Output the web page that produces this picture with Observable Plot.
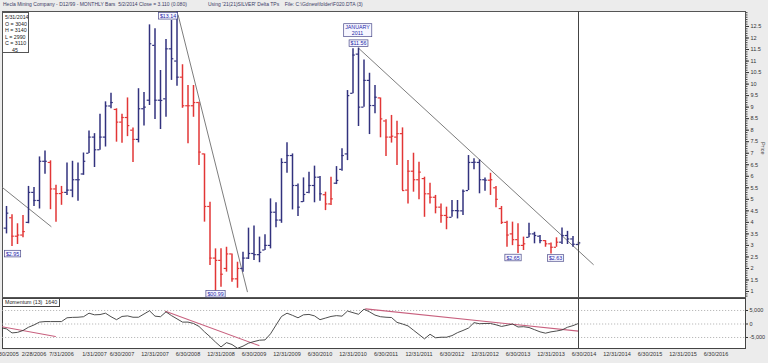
<!DOCTYPE html>
<html><head><meta charset="utf-8">
<script src="https://cdn.jsdelivr.net/npm/d3@7"></script>
<script src="https://cdn.jsdelivr.net/npm/@observablehq/plot@0.6"></script>
<style>
body{margin:0;background:#f0f0f0;font-family:"Liberation Sans",Arial,sans-serif;}
#wrap{position:relative;width:768px;height:363px;overflow:hidden;background:#ececec;}
#wrap svg{position:absolute;left:0;}
.hdr{position:absolute;top:1px;font-size:5px;color:#3c3c66;white-space:pre;}
#info{position:absolute;left:2px;top:12px;width:23px;height:38px;border:1px solid #555;background:#fff;font-size:5.3px;line-height:6.5px;color:#222;padding:1px 0 0 2px;}
#momlbl{position:absolute;left:2px;top:298px;height:7px;padding:0 2px;border:1px solid #444;background:#fff;font-size:5.3px;line-height:7px;color:#222;white-space:pre;}
</style></head><body>
<div id="wrap">
<div class="hdr" style="left:3px">Hecla Mining Company - D12/99 - MONTHLY Bars  5/2/2014 Close = 3.110 (0.080)</div>
<div class="hdr" style="left:208px">Using '21(21)SILVER' Delta TPs    File: C:\Gdnew\folder\F020.DTA (3)</div>
</div>
<script>
// ---- data (bar 1 = Sep 2005 ... bar 105 = May 2014), prices in $
const opens = [3.75,4.20,3.40,3.45,4.00,5.30,4.95,6.65,6.60,5.45,5.25,5.30,5.40,5.85,6.10,7.00,7.70,7.15,7.70,9.05,
8.90,8.35,8.55,8.00,7.60,8.93,9.30,11.68,9.30,9.36,11.53,11.00,10.30,9.06,9.06,9.20,6.97,4.69,2.45,2.35,
2.00,2.63,1.55,2.00,2.45,2.65,2.60,2.80,3.00,4.44,4.10,6.60,6.90,5.60,4.90,5.30,5.60,5.96,5.20,4.80,
5.70,6.30,6.97,9.60,11.30,9.00,10.16,9.07,9.40,8.40,7.70,7.70,7.85,5.40,6.22,5.85,5.90,5.24,5.09,4.66,
4.30,4.22,4.51,4.50,5.38,6.60,6.60,5.85,5.83,5.50,4.60,4.00,3.50,3.25,3.00,3.35,3.50,3.40,3.21,3.07,
2.92,3.14,3.43,3.28,3.04];
const highs = [4.69,4.33,3.94,4.30,5.56,5.51,6.84,7.10,6.67,5.61,5.56,6.58,6.65,6.58,7.01,7.97,7.85,8.69,9.23,9.60,
8.93,8.69,9.40,8.09,9.80,9.63,12.57,12.40,10.59,11.94,12.76,13.14,10.84,9.94,9.94,9.21,6.97,4.87,2.85,2.85,
2.92,2.63,2.27,2.70,3.75,3.84,3.36,3.46,5.02,4.85,6.76,7.45,6.97,5.67,5.93,6.18,6.44,5.99,5.31,5.96,
6.42,7.19,9.72,11.53,11.56,11.05,10.47,9.94,9.40,8.45,8.64,8.39,8.10,6.68,7.00,6.61,5.96,5.70,5.17,4.80,
4.66,4.95,4.95,5.41,6.90,6.76,6.71,5.93,6.13,5.56,4.69,4.05,4.01,3.94,3.36,3.96,3.57,3.43,3.21,3.10,
3.33,3.76,3.61,3.39,3.14];
const lows = [3.50,2.95,3.04,3.33,3.94,4.69,4.58,6.09,4.55,4.01,4.74,5.17,5.07,4.92,6.04,6.99,6.38,7.13,7.27,8.93,
7.48,7.43,7.72,6.60,7.45,8.18,9.07,8.46,8.03,8.56,10.16,9.91,8.95,7.41,8.56,6.47,4.01,2.13,0.99,1.19,
1.84,1.40,1.14,1.84,2.39,2.35,2.25,2.78,2.85,3.77,3.96,6.13,4.54,4.25,4.87,5.24,4.85,4.92,4.51,4.73,
5.64,6.22,6.68,9.58,8.16,9.00,7.81,8.71,7.67,6.86,7.44,6.47,5.38,4.80,5.31,4.98,4.22,4.80,4.37,3.96,
3.68,4.22,4.15,4.30,5.38,6.28,5.24,5.35,5.17,4.63,3.91,2.92,2.99,2.65,2.78,3.33,3.07,3.07,2.92,2.63,
2.92,3.04,3.04,2.92,2.99];
const closes = [4.40,3.40,3.45,3.60,5.30,4.95,6.65,6.65,5.45,5.25,5.30,5.40,5.85,5.85,6.65,7.70,7.15,7.70,9.05,9.20,
8.35,8.55,8.20,7.60,8.93,9.00,11.75,9.30,9.29,11.53,11.10,10.30,9.06,9.06,9.20,7.05,4.69,2.45,2.35,1.75,
2.63,1.55,2.00,2.45,2.65,2.60,2.70,3.00,4.44,4.10,6.60,6.90,5.60,4.66,5.21,5.60,5.96,5.24,4.80,5.02,
5.82,6.90,9.50,11.26,9.00,10.16,9.07,9.43,8.49,7.70,7.74,7.85,5.38,6.22,5.85,6.18,5.24,5.09,4.66,4.30,
4.22,4.51,4.50,5.35,6.60,6.61,5.85,5.83,5.85,5.00,4.00,3.45,3.25,3.00,3.07,3.50,3.43,3.21,3.07,2.92,
3.14,3.43,3.28,3.05,3.11];
// bar colour state (b = blue, r = red), runs per bar
const barState = ("b"+"rrr"+"bbbb"+"rrr"+"bbbbbbbbb"+"rrrr"+"bbbbbbbb"+"rrrrrrrrrrr"+"bbbbbbbbbbbbbbb"+"rr"+
  "bbbbbbbb"+"rrrrrrrrrrrrr"+"bbbbbbb"+"rrrrrrr"+"bbb"+"rrr"+"bbbb").split("");
// Momentum(13), bar 0 (Aug 2005) .. bar 105
const momentum = [-1400,-1800,-3300,-3100,-2400,-1200,-350,700,900,900,900,900,2300,2450,2500,2700,4000,3400,3500,4000,
2700,1600,2800,3000,2500,2500,3700,4900,2900,2700,4500,3100,1900,700,700,200,-900,-2900,-4700,-6700,
-8500,-6900,-7600,-9000,-8200,-7100,-6500,-6000,-5900,-3650,-400,2800,4000,3200,2300,3400,3550,3000,1600,2200,
2800,3100,2900,4800,4200,3600,5500,4500,3300,2700,2500,2400,600,0,-700,-2300,-3900,-5500,-3800,-5100,
-4900,-4900,-4300,-3200,-2400,-1500,500,100,200,200,-300,-900,-500,0,-1100,-1000,-1300,-2100,-2900,-3400,
-2900,-2600,-2200,-1200,-600,200];
// trend lines: [bar, value] pairs
const priceTrendA = [[0,5.56],[9.1,3.82]];
const priceTrendB = [[32.2,13.0],[44.8,0.99]];
const priceTrendC = [[65,11.56],[107.7,2.17]];
const momTrend1 = [[0,-930],[9.9,-4630]];
const momTrend2 = [[29.9,4700],[46.9,-8000]];
const momTrend3 = [[66.3,5600],[105,-2650]];
// annotations
const labelBars = [32,65,65,2,39,94,100];
const labelPrices = [13.14,11.56,11.56,2.95,0.99,2.65,2.63];
const labelTexts = ["$13.14","$11.56","JANUARY\n2011","$2.95","$00.99","$2.65","$2.63"];
const currentBar = 105;
// axis labels
const priceTicks = [1,1.5,2,2.5,3,3.5,4,4.5,5,5.5,6,6.5,7,7.5,8,8.5,9,9.5,10,10.5,11,11.5,12,12.5];
const momTicks = [5000,0,-5000];
const dateLabels = ["9/30/2005","2/28/2006","7/31/2006","1/31/2007","6/30/2007","12/31/2007","6/30/2008","12/31/2008",
"6/30/2009","12/31/2009","6/30/2010","12/31/2010","6/30/2011","12/31/2011","6/30/2012","12/31/2012","6/30/2013",
"12/31/2013","6/30/2014","12/31/2014","6/30/2015","12/31/2015","6/30/2016"];
const infoLines = ["5/31/2014","O = 3040","H = 3140","L = 2990","C = 3110","45"];
const momTitle = "Momentum (13)  1640";

// ---- layout / style
const BLUE="#32327e", RED="#e23636", TREND="#6e6e6e", PINK="#c8607e";
const labelOffsets = [[-9,4],[0,-5],[-1,-18],[0.5,7],[0,2],[-5,4],[4.5,4]];
const xDom = [(2-6)/5.5+1,(745-6)/5.5+1];
const font = {fontFamily:"Liberation Sans, Arial, sans-serif", fontSize:"6px", color:"#333", background:"transparent", overflow:"visible"};
const bars = opens.map((o,i)=>({b:i+1,o,h:highs[i],l:lows[i],c:closes[i],s:barState[i]}));
const moms = momentum.map((v,i)=>({b:i,v}));
const seg = (pts,id)=>pts.map(([b,v])=>({b,v,id}));
const barOf = s=>{const [m,,y]=s.split("/").map(Number); return (y-2005)*12+m-9+1;};
const tickMap = new Map(dateLabels.map(s=>[barOf(s),s]));
const minor = d3.range(8,132).map(k=>k/10);

const wrap = document.getElementById("wrap");

const price = Plot.plot({
  width:768,height:298,marginLeft:2,marginRight:23,marginTop:11,marginBottom:1,
  style:font,
  x:{type:"linear",domain:xDom,axis:null},
  y:{domain:[0.74,13.15],axis:null},
  color:{domain:["b","r"],range:[BLUE,RED]},
  marks:[
    Plot.frame({fill:"white",stroke:"#555"}),
    Plot.axisY({anchor:"right",ticks:minor,tickSize:1.5,tickFormat:()=>"",stroke:"#444",label:null}),
    Plot.axisY({anchor:"right",ticks:priceTicks,tickSize:3,tickPadding:2,fontSize:5.5,tickFormat:d=>String(d),label:null}),
    Plot.text(["Price"],{frameAnchor:"right",dx:17,rotate:90,fontSize:5.5,fill:"#444"}),
    Plot.line([...seg(priceTrendA,"A"),...seg(priceTrendB,"B"),...seg(priceTrendC,"C")],{x:"b",y:"v",z:"id",stroke:TREND,strokeWidth:0.9,clip:true}),
    Plot.ruleX(bars,{x:"b",y1:"l",y2:"h",stroke:"s",strokeWidth:1.5}),
    Plot.ruleY(bars,{y:"o",x1:d=>d.b-0.42,x2:"b",stroke:"s",strokeWidth:1.2}),
    Plot.ruleY(bars,{y:"c",x1:"b",x2:d=>d.b+0.42,stroke:"s",strokeWidth:1.2}),
    Plot.ruleX([currentBar],{stroke:"#444",strokeWidth:1}),
    ...labelTexts.map((t,i)=>Plot.text([{b:labelBars[i],p:labelPrices[i],t}],
      {x:"b",y:"p",text:"t",dx:labelOffsets[i][0],dy:labelOffsets[i][1],fontSize:5.3,lineHeight:1.2,fill:"#2626a8"}))
  ]
});
price.style.top="0px";
wrap.appendChild(price);

const mom = Plot.plot({
  width:768,height:66,marginLeft:2,marginRight:23,marginTop:1,marginBottom:15,
  style:font,
  x:{type:"linear",domain:xDom,axis:null},
  y:{domain:[-9074,9444],axis:null},
  marks:[
    Plot.frame({fill:"white",stroke:"#444"}),
    Plot.ruleY(momTicks,{stroke:"#a8a8a8",strokeDasharray:"1.2,1.8",strokeWidth:0.8}),
    Plot.axisY({anchor:"right",ticks:momTicks,tickSize:2,tickPadding:2,fontSize:5.5,tickFormat:d=>d.toLocaleString("en-US"),label:null}),
    Plot.axisX({anchor:"bottom",ticks:[...tickMap.keys()],tickSize:0,tickPadding:4,fontSize:5.5,tickFormat:d=>tickMap.get(d),label:null}),
    Plot.line([...seg(momTrend1,"1"),...seg(momTrend2,"2"),...seg(momTrend3,"3")],{x:"b",y:"v",z:"id",stroke:PINK,strokeWidth:1.1,clip:true}),
    Plot.line(moms,{x:"b",y:"v",stroke:"#3a3a3a",strokeWidth:0.9,clip:true}),
    Plot.ruleX([currentBar],{stroke:"#444",strokeWidth:1})
  ]
});
mom.style.top="297px";
wrap.appendChild(mom);

// boxes behind annotation texts
const boxed = new Set(labelTexts.map(s=>s.replace(/\n/g,"")));
price.querySelectorAll("text").forEach(t=>{
  if(!boxed.has(t.textContent.trim())) return;
  const bb=t.getBBox();
  const r=document.createElementNS("http://www.w3.org/2000/svg","rect");
  r.setAttribute("x",bb.x-1.5);r.setAttribute("y",bb.y-0.3);
  r.setAttribute("width",bb.width+3);r.setAttribute("height",bb.height+0.6);
  r.setAttribute("fill","#f6f6ff");r.setAttribute("stroke","#4a4a8a");r.setAttribute("stroke-width","0.7");
  if(t.getAttribute("transform")) r.setAttribute("transform",t.getAttribute("transform"));
  t.parentNode.insertBefore(r,t);
});

const info=document.createElement("div");info.id="info";
info.innerHTML=infoLines.map((s,i)=>i===infoLines.length-1?`<div style="padding-left:7px">${s}</div>`:`<div>${s}</div>`).join("");
wrap.appendChild(info);
const ml=document.createElement("div");ml.id="momlbl";ml.textContent=momTitle;wrap.appendChild(ml);
</script>
</body></html>
